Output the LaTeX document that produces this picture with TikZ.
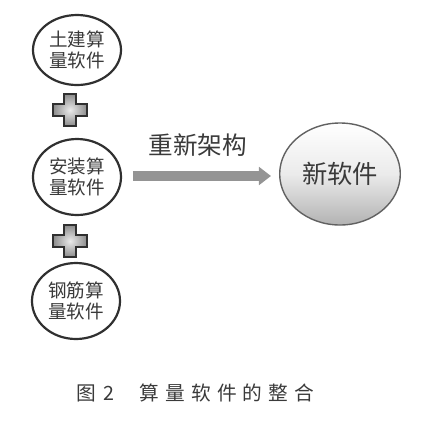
\documentclass[tikz,border=0pt]{standalone}
\usepackage{fontspec}
\newfontfamily\cjk{Noto Sans CJK SC}
\usetikzlibrary{shapes.geometric,arrows.meta,shadings}
\definecolor{encre}{HTML}{3A3A3A}
\definecolor{trait}{HTML}{303030}
\tikzset{
    logiciel/.style={ellipse, draw=trait, line width=0.55mm, minimum width=22mm,
      minimum height=19mm, inner sep=0pt, align=center, text=encre,
      font=\cjk\fontsize{13.2}{15.2}\selectfont},
    nouveau/.style={ellipse, draw=encre!80, line width=0.35mm, minimum width=27.5mm,
      minimum height=25.5mm, top color=white, bottom color=black!30, middle color=black!8,
      text=encre, font=\cjk\fontsize{18}{20}\selectfont},
    barre/.style={line width=2.6mm, draw=black!42,
      -{Triangle[width=4.4mm, length=3mm]}},
    pics/plus/.style={code={
      \draw[draw=trait, line width=0.45mm, inner color=black!8, outer color=black!45]
        (-6,-16) -- (6,-16) -- (6,-6) -- (17,-6) -- (17,6) -- (6,6) -- (6,16)
        -- (-6,16) -- (-6,6) -- (-17,6) -- (-17,-6) -- (-6,-6) -- cycle;
    }},
  }
\begin{document}
\begin{tikzpicture}[x=0.25mm, y=-0.25mm]
				  \useasboundingbox (0,0) rectangle (432,424);
				  %les trois logiciels
				  \node[logiciel, minimum height=17.5mm] (tujian) at (77,50) {土建算\\量软件};
				  \node[logiciel] (anzhuang) at (77,177) {安装算\\量软件};
				  \node[logiciel] (gangjin) at (76,301) {钢筋算\\量软件};
				  
				  \pic at (70,110) {plus};
				  \pic at (70,241) {plus};
				  
				  %nouveau logiciel
				  \node[nouveau] (xin) at (340,174) {新软件};
				  
				  \coordinate (depart) at (133,176);
				  \draw[barre, shorten >=2mm] (depart) -- (depart -| xin.west)
				    node[midway, above=2.3mm, xshift=-2mm, text=encre,
				      font=\cjk\fontsize{17.5}{19}\selectfont] (refonte) {重新架构};
				  
				  %legende
				  \node[text=encre, font=\cjk\fontsize{14}{16}\selectfont] (legende) at (195,393)
				    {图\hspace{1.8mm}2\hspace{6.5mm}算\hspace{1.5mm}量\hspace{1.5mm}软\hspace{1.5mm}件\hspace{1.5mm}的\hspace{1.5mm}整\hspace{1.5mm}合};
				  \end{tikzpicture}
\end{document}
